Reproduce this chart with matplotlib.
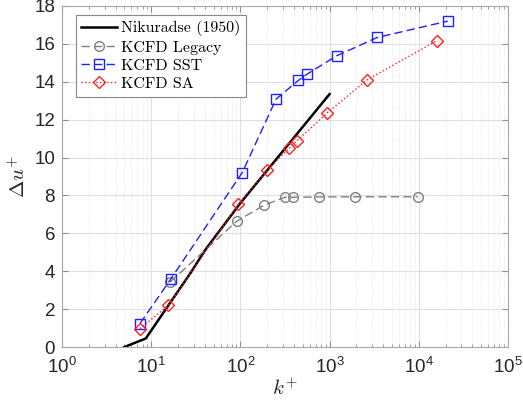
import matplotlib.pyplot as plt
from matplotlib.ticker import LogLocator, NullFormatter

# roughness function data, Delta u+ versus k+
k_nik = [5.0, 8.7, 15.6, 28.0, 40.0, 100.0, 1000.0]
du_nik = [0.0, 0.45, 2.2, 3.95, 5.1, 7.6, 13.35]

k_legacy = [16.3, 91, 185, 316, 385, 767, 1930, 9700]
du_legacy = [3.43, 6.64, 7.49, 7.9, 7.9, 7.92, 7.93, 7.93]

k_sst = [7.5, 16.5, 105, 251, 446, 553, 1200, 3430, 21100]
du_sst = [1.24, 3.57, 9.21, 13.08, 14.07, 14.39, 15.37, 16.34, 17.2]

k_sa = [7.5, 15.6, 95, 200, 351, 434, 943, 2608, 15800]
du_sa = [0.97, 2.2, 7.54, 9.33, 10.48, 10.9, 12.36, 14.09, 16.16]

plt.rcParams['font.family'] = ['Liberation Sans', 'DejaVu Sans']
plt.rcParams['mathtext.fontset'] = 'cm'

fig = plt.figure(figsize=(5.23, 4.05), dpi=100)
ax = fig.add_axes([0.1185, 0.1432, 0.8528, 0.8420])

ax.plot(k_nik, du_nik, '-', color='k', lw=1.8, label='Nikuradse (1950)')
ax.plot(k_legacy, du_legacy, '--', color='#808080', lw=1.0, marker='o',
        ms=7, mfc='none', mec='#808080', label='KCFD Legacy', dashes=(6, 3))
ax.plot(k_sst, du_sst, '--', color='#1f1fff', lw=1.0, marker='s',
        ms=7, mfc='none', mec='#1f1fff', label='KCFD SST', dashes=(6, 3))
ax.plot(k_sa, du_sa, ':', color='#ff2020', lw=1.0, marker='D',
        ms=6.5, mfc='none', mec='#ff2020', label='KCFD SA')

ax.set_xscale('log')
ax.set_xlim(1, 1e5)
ax.set_ylim(0, 18)
ax.set_yticks(range(0, 19, 2))
ax.xaxis.set_major_locator(LogLocator(base=10, numticks=10))
ax.xaxis.set_minor_locator(LogLocator(base=10, subs=range(2, 10), numticks=20))
ax.xaxis.set_minor_formatter(NullFormatter())

# matlab-style grid and inward ticks on all sides
ax.grid(True, which='major', color='#e0e0e0', lw=0.8)
ax.grid(True, which='minor', axis='x', color='#e0e0e0', lw=0.6, ls=':')
ax.set_axisbelow(True)
ax.tick_params(which='both', direction='in', top=True, right=True,
               color='#909090', labelcolor='#262626', labelsize=13.5)
ax.tick_params(which='major', length=4)
ax.tick_params(which='minor', length=2)
ax.tick_params(axis='x', pad=7)
ax.tick_params(axis='y', pad=5)
for s in ax.spines.values():
    s.set_color('#a8a8a8')
    s.set_linewidth(0.8)

ax.set_xlabel('$k^{+}$', fontsize=15, color='#262626', labelpad=1)
ax.set_ylabel(r'$\Delta u^{+}$', fontsize=15, color='#262626', labelpad=4)

leg = ax.legend(loc='upper left', bbox_to_anchor=(0.031, 0.974),
                borderaxespad=0, prop={'family': 'cmr10', 'size': 11.5},
                fancybox=False, edgecolor='#888888', framealpha=1,
                handlelength=2.2, handletextpad=0.3, labelspacing=0.25,
                borderpad=0.35)
leg.get_frame().set_linewidth(0.8)

fig.savefig('out.png', dpi=100)
